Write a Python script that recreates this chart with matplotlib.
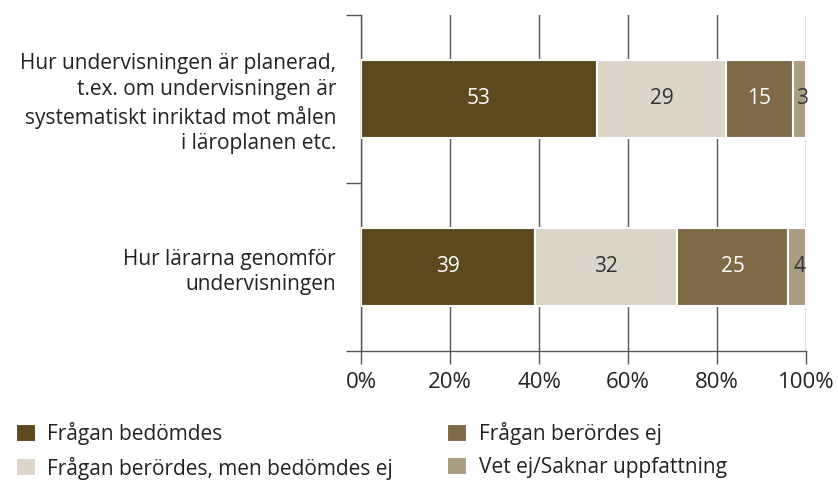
import matplotlib.pyplot as plt
import numpy as np

plt.rcParams['font.family'] = ['Open Sans', 'DejaVu Sans']

categories = ['Hur undervisningen är planerad,\nt.ex. om undervisningen är\nsystematiskt inriktad mot målen\ni läroplanen etc.',
              'Hur lärarna genomför\nundervisningen']
series = ['Frågan bedömdes', 'Frågan berördes, men bedömdes ej',
          'Frågan berördes ej', 'Vet ej/Saknar uppfattning']
bedomdes = [53, 39]
berordes_men_ej = [29, 32]
berordes_ej = [15, 25]
vet_ej = [3, 4]
values = [bedomdes, berordes_men_ej, berordes_ej, vet_ej]
colours = ['#5c4a1e', '#dbd5ca', '#7f6a48', '#ab9d83']
text_colours = ['white', '#333333', 'white', '#333333']

fig = plt.figure(figsize=(8.38, 4.82), dpi=100)
ax = fig.add_axes([361 / 838, 1 - 351 / 482, 445 / 838, 336 / 482])

y = np.arange(len(categories))
left = np.zeros(len(categories))
handles = []
for vals, col, tcol, name in zip(values, colours, text_colours, series):
  bars = ax.barh(y, vals, left=left, height=0.465, color=col, edgecolor='white', linewidth=1.5, label=name, zorder=3)
  handles.append(bars)
  for i, v in enumerate(vals):
    if v >= 10:
      ax.text(left[i] + v / 2, y[i], str(v), ha='center', va='center', color=tcol, fontsize=15, zorder=4)
    else:
      ax.text(left[i] + v / 2 + 0.5, y[i], str(v), ha='center', va='center', color=tcol, fontsize=15, zorder=4)
  left += np.array(vals)

ax.set_xlim(0, 100)
ax.set_ylim(1.5, -0.5)
ax.set_xticks([0, 20, 40, 60, 80, 100])
ax.set_xticklabels(['0%', '20%', '40%', '60%', '80%', '100%'], fontsize=16, color='#222222')
ax.tick_params(axis='x', length=9, width=1, color='#555555', pad=6)
ax.grid(axis='x', color='#555555', linewidth=1, zorder=1)

ax.set_yticks([-0.5, 0.5, 1.5])
ax.set_yticklabels([])
ax.tick_params(axis='y', which='major', length=11, width=1, color='#555555')
ax.set_yticks(y, minor=True)
ax.set_yticklabels(categories, minor=True, fontsize=15, color='#222222', ha='right', linespacing=1.3)
ax.tick_params(axis='y', which='minor', length=0, pad=18)

for s in ['top', 'right']:
  ax.spines[s].set_visible(False)
for s in ['left', 'bottom']:
  ax.spines[s].set_color('#555555')
  ax.spines[s].set_linewidth(1)

fig.legend(handles=handles, labels=series, ncol=2, loc='lower left', bbox_to_anchor=(-0.003, -0.034),
           frameon=False, fontsize=15, handlelength=0.95, handleheight=0.95, handletextpad=0.55,
           columnspacing=2.6, labelspacing=0.55, labelcolor='#222222')

plt.savefig('out.png', dpi=100)
